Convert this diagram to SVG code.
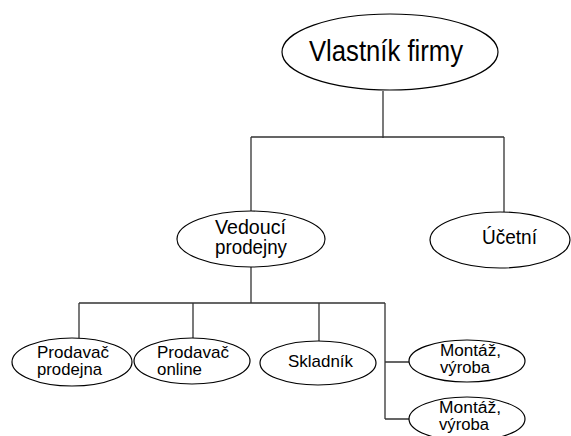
<svg xmlns="http://www.w3.org/2000/svg" width="571" height="436" viewBox="0 0 571 436">
<style>
.n{fill:#fff;stroke:#000;stroke-width:1.2}
.c{fill:none;stroke:#333;stroke-width:1.3}
text{font-family:"Liberation Sans",Arial,sans-serif;fill:#000}
</style>
<rect width="571" height="436" fill="#fff"/>
<g id="connectors">
<path class="c" d="M383 91V138M251 137H504M251 137V211M504 137V212"/>
<path class="c" d="M251 267V303M79 303H385M79 303V338M193 303V338M319 303V341M385 303V419M385 362H409M385 419H409"/>
</g>
<g id="owner">
<ellipse class="n" cx="390" cy="52" rx="108" ry="38"/>
<text x="309" y="61" font-size="30" textLength="154" lengthAdjust="spacingAndGlyphs">Vlastník firmy</text>
</g>
<g id="manager">
<ellipse class="n" cx="251" cy="239" rx="74" ry="28"/>
<text x="215" y="234" font-size="21" textLength="71" lengthAdjust="spacingAndGlyphs">Vedoucí</text>
<text x="215" y="254" font-size="21" textLength="72" lengthAdjust="spacingAndGlyphs">prodejny</text>
</g>
<g id="accountant">
<ellipse class="n" cx="500" cy="240" rx="70" ry="28"/>
<text x="482" y="244" font-size="21" textLength="55" lengthAdjust="spacingAndGlyphs">Účetní</text>
</g>
<g id="seller-store">
<ellipse class="n" cx="72" cy="362" rx="60" ry="24"/>
<text x="37" y="358" font-size="17" textLength="72" lengthAdjust="spacingAndGlyphs">Prodavač</text>
<text x="37" y="375" font-size="17" textLength="65" lengthAdjust="spacingAndGlyphs">prodejna</text>
</g>
<g id="seller-online">
<ellipse class="n" cx="192" cy="361" rx="58" ry="23"/>
<text x="157" y="358" font-size="17" textLength="72" lengthAdjust="spacingAndGlyphs">Prodavač</text>
<text x="157" y="375" font-size="17" textLength="45" lengthAdjust="spacingAndGlyphs">online</text>
</g>
<g id="warehouse">
<ellipse class="n" cx="318" cy="363" rx="58" ry="22"/>
<text x="288" y="367" font-size="17" textLength="65" lengthAdjust="spacingAndGlyphs">Skladník</text>
</g>
<g id="assembly-1">
<ellipse class="n" cx="467" cy="361" rx="58" ry="21"/>
<text x="440" y="356" font-size="16" textLength="61" lengthAdjust="spacingAndGlyphs">Montáž,</text>
<text x="440" y="373" font-size="16" textLength="50" lengthAdjust="spacingAndGlyphs">výroba</text>
</g>
<g id="assembly-2">
<ellipse class="n" cx="467" cy="419" rx="58" ry="22"/>
<text x="439" y="413" font-size="16" textLength="62" lengthAdjust="spacingAndGlyphs">Montáž,</text>
<text x="439" y="430" font-size="16" textLength="50" lengthAdjust="spacingAndGlyphs">výroba</text>
</g>
</svg>
